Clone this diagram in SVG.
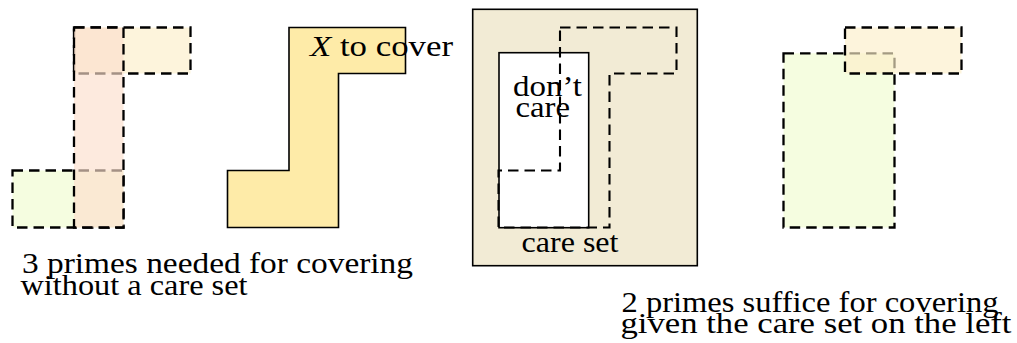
<svg xmlns="http://www.w3.org/2000/svg" width="1017" height="343" viewBox="0 0 1017 343">
  <style>
    .lbl { font-family: "Liberation Serif", "DejaVu Serif", serif; font-size: 30px; fill: #000; }
    .prime { stroke: #000; stroke-width: 2.3; stroke-dasharray: 10.5 6; fill-opacity: 0.65; }
    .yellow { fill: #fceec9; }
    .green { fill: #f0fccf; }
    .peach { fill: #fcdfcc; }
    .solid { stroke: #000; stroke-width: 1.6; }
  </style>

  <!-- Left: three primes covering X without a care set -->
  <g id="primes-without-care">
    <rect class="prime yellow" x="74" y="27.5" width="116.5" height="46"/>
    <rect class="prime green" x="12.5" y="170.5" width="111" height="57"/>
    <rect class="prime peach" x="74" y="27.5" width="49.5" height="200"/>
  </g>

  <!-- The function X to be covered -->
  <g id="set-x">
    <polygon class="solid" fill="#feeba8"
      points="289,27.5 405.5,27.5 405.5,73.5 338.5,73.5 338.5,227.5 227.5,227.5 227.5,170.5 289,170.5"/>
    <text class="lbl" x="310" y="56" textLength="143" lengthAdjust="spacingAndGlyphs"><tspan font-style="italic">X</tspan> to cover</text>
  </g>

  <!-- Care set with a don't-care hole, X drawn dashed on top -->
  <g id="care-set">
    <rect class="solid" fill="#f2ebd5" x="472.7" y="9.3" width="224.6" height="256.4"/>
    <rect class="solid" fill="#ffffff" x="499" y="52.7" width="89.7" height="175"/>
    <polygon fill="none" stroke="#000" stroke-width="2.1" stroke-dasharray="10.5 6"
      points="560,27.5 676.5,27.5 676.5,73.5 609.5,73.5 609.5,227.5 498.5,227.5 498.5,170.5 560,170.5"/>
    <text class="lbl" x="513" y="96" textLength="69" lengthAdjust="spacingAndGlyphs">don’t</text>
    <text class="lbl" x="515.5" y="116.7" textLength="54.5" lengthAdjust="spacingAndGlyphs">care</text>
    <text class="lbl" x="521.5" y="251.7" textLength="97" lengthAdjust="spacingAndGlyphs">care set</text>
  </g>

  <!-- Right: two primes suffice given the care set -->
  <g id="primes-with-care">
    <rect class="prime green" x="783.5" y="53.3" width="111" height="174.2"/>
    <rect class="prime yellow" x="845" y="27.5" width="116.5" height="46"/>
  </g>

  <!-- Captions -->
  <g id="caption-left">
    <text class="lbl" x="22" y="272.5" textLength="391" lengthAdjust="spacingAndGlyphs">3 primes needed for covering</text>
    <text class="lbl" x="20.5" y="294.5" textLength="227" lengthAdjust="spacingAndGlyphs">without a care set</text>
  </g>
  <g id="caption-right">
    <text class="lbl" x="621.5" y="311.5" textLength="377" lengthAdjust="spacingAndGlyphs">2 primes suffice for covering</text>
    <text class="lbl" x="620.5" y="333.3" textLength="391" lengthAdjust="spacingAndGlyphs">given the care set on the left</text>
  </g>

  <!-- no connectors in this figure -->
  <g id="connectors"/>
</svg>
